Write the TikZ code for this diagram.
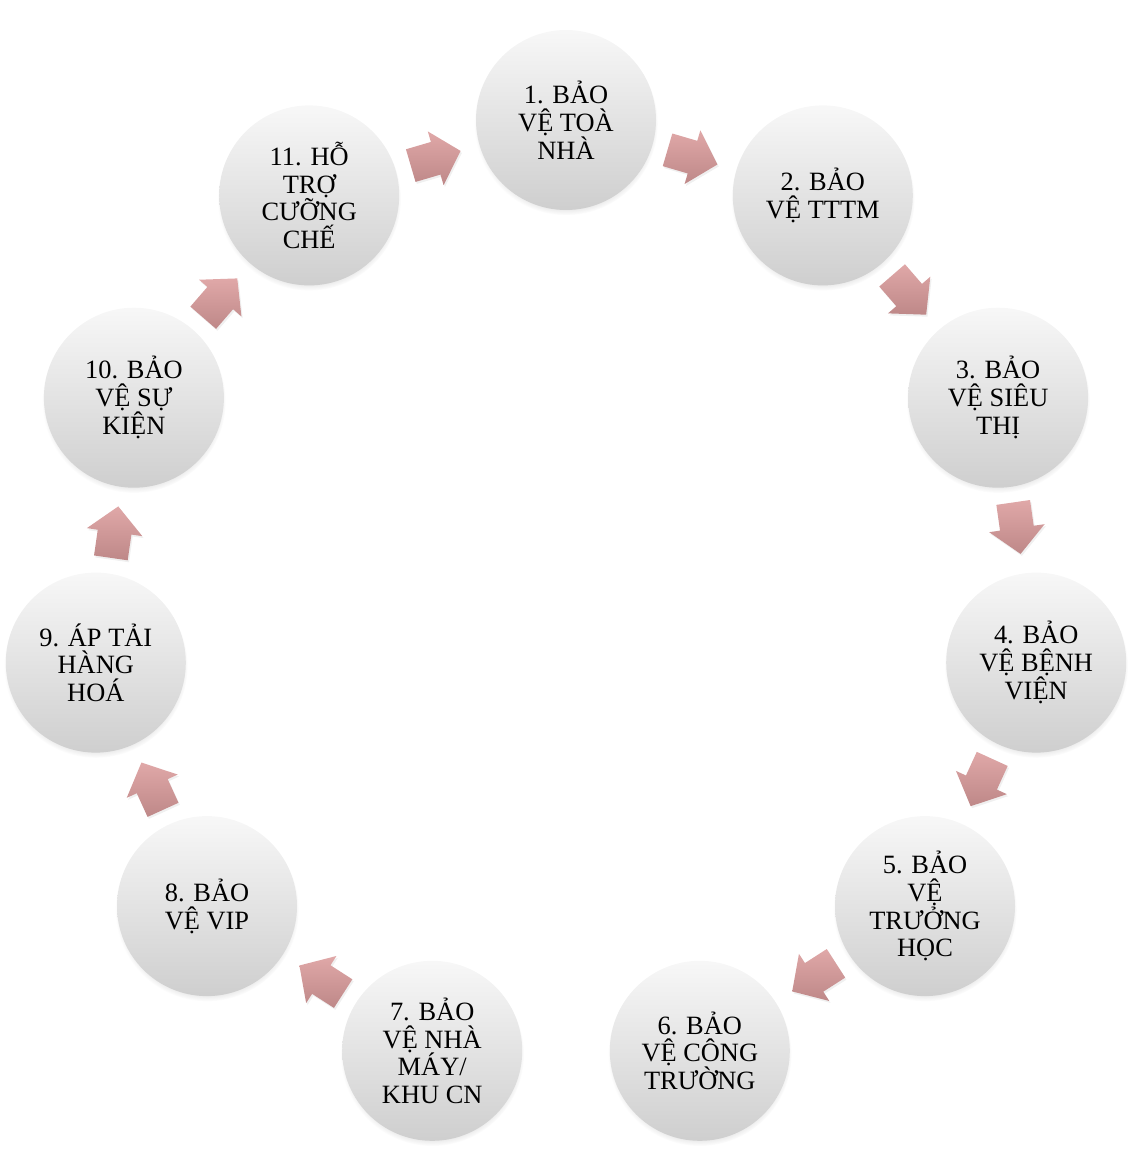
\documentclass[tikz,border=0pt]{standalone}
\usepackage{fontspec}
\setmainfont{Liberation Serif}
\usetikzlibrary{shadows,calc}
\definecolor{arrtop}{RGB}{224,168,168}
\definecolor{arrbot}{RGB}{190,136,136}
\begin{document}
\begin{tikzpicture}[x=0.75pt,y=-0.75pt,
  ball/.style={circle, minimum size=135pt, inner sep=0pt, align=center,
    top color=white!97!black, bottom color=black!19,
    circular drop shadow={shadow xshift=0pt, shadow yshift=-2.5pt, shadow scale=1.02, opacity=0.35},
    font=\fontsize{19.8}{20.85}\selectfont, text=black},
  blockarrow/.style={top color=arrtop, bottom color=arrbot,
    drop shadow={shadow xshift=1pt, shadow yshift=-1.5pt, opacity=0.12}}
  ]
\useasboundingbox (0,0) rectangle (1133,1171);
\node[ball] (c1)  at (566.0,120.0)  {1. BẢO\\VỆ TOÀ\\NHÀ};
\node[ball] (c2)  at (822.8,195.4)  {2. BẢO\\VỆ TTTM};
\node[ball] (c3)  at (998.1,397.7)  {3. BẢO\\VỆ SIÊU\\THỊ};
\node[ball] (c4)  at (1036.2,662.6) {4. BẢO\\VỆ BỆNH\\VIỆN};
\node[ball] (c5)  at (925.0,906.1)  {5. BẢO\\VỆ\\TRƯỞNG\\HỌC};
\node[ball] (c6)  at (699.8,1050.8) {6. BẢO\\VỆ CÔNG\\TRƯỜNG};
\node[ball] (c7)  at (432.2,1050.8) {7. BẢO\\VỆ NHÀ\\MÁY/\\KHU CN};
\node[ball] (c8)  at (207.0,906.1)  {8. BẢO\\VỆ VIP};
\node[ball] (c9)  at (95.8,662.6)   {9. ÁP TẢI\\HÀNG\\HOÁ};
\node[ball] (c10) at (133.9,397.7)  {10. BẢO\\VỆ SỰ\\KIỆN};
\node[ball] (c11) at (309.2,195.4)  {11. HỖ\\TRỢ\\CƯỠNG\\CHẾ};
\foreach \i in {1,2,3,4,5,7,8,9,10,11}{
  \pgfmathtruncatemacro\j{mod(\i,11)+1}
  \path let \p1=(c\i.center), \p2=(c\j.center) in
    \pgfextra{\pgfmathsetmacro\ang{atan2(\y2-\y1,\x2-\x1)}\global\let\gang\ang};
  \coordinate (m\i) at ($(c\i)!0.5!(c\j)$);
  \begin{scope}[shift={(m\i)}, rotate=\gang]
    \shade[blockarrow] (-28,-17) -- (-2,-17) -- (-2,-28) -- (24,0)
      -- (-2,28) -- (-2,17) -- (-28,17) -- cycle;
  \end{scope}
}
\end{tikzpicture}
\end{document}
